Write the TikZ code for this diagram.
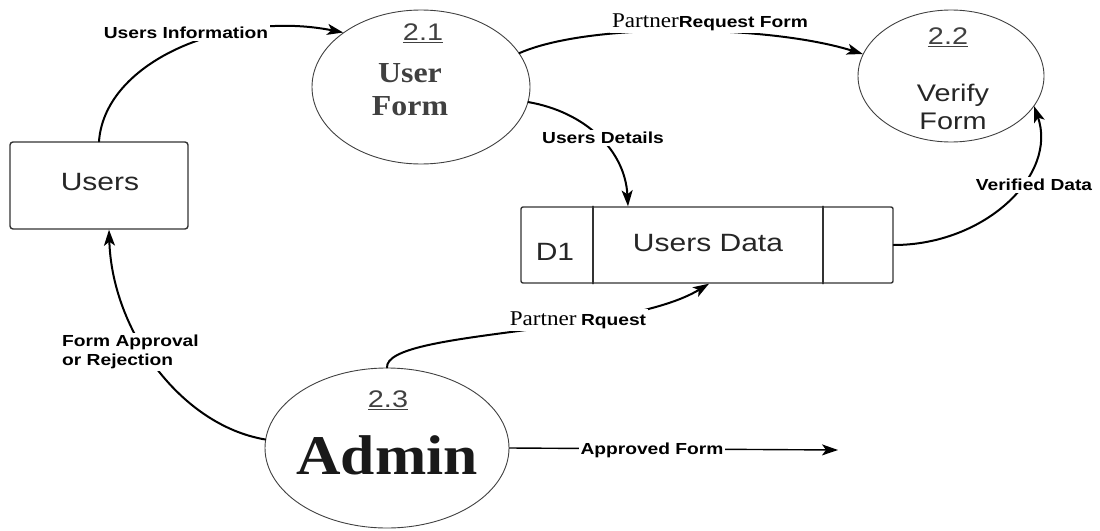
\documentclass[tikz,border=0pt]{standalone}
\usepackage{fontspec}
\usepackage{graphicx}
\setmainfont{Liberation Sans}
\newfontfamily\tnr{Liberation Serif}
\usetikzlibrary{shapes.geometric,arrows.meta}
\newcommand{\sx}[2][1.2]{\scalebox{#1}[1]{#2}}
\begin{document}
\begin{tikzpicture}[x=1pt, y=-1pt, line join=round, line cap=round,
	proc/.style={draw=black!75, line width=0.9pt, ellipse, inner sep=0pt},
	ent/.style={draw=black!80, line width=1.4pt, rounded corners=3pt, inner sep=0pt},
	flow/.style={line width=2pt, -{Stealth[length=16pt,width=11pt,inset=4pt]}},
	lbl/.style={fill=white, inner sep=2pt, font=\fontsize{16}{19}\selectfont\bfseries},
	num/.style={font=\fontsize{24}{26}\selectfont, text=black!75},
	ptxt/.style={font=\tnr\bfseries\fontsize{29}{33}\selectfont, align=center, text=black!75},
	stxt/.style={font=\fontsize{25}{28}\selectfont, align=center, text=black!85}]
	\useasboundingbox (0,0) rectangle (1100,530);
	% processes
	\node[proc, minimum width=218, minimum height=154] (p21) at (421,87) {};
	\node[proc, minimum width=186, minimum height=132] (p22) at (951,76) {};
	\node[proc, minimum width=244, minimum height=160] (p23) at (387,448) {};
	\node[num] at (423,33) {\underline{\sx{2.1}}};
	\node[ptxt] at (410,90) {\sx[1.1]{User}\\\sx[1.1]{Form}};
	\node[num] at (948,37) {\underline{\sx{2.2}}};
	\node[stxt, font=\fontsize{24}{28}\selectfont] at (953,107) {\sx{Verify}\\\sx{Form}};
	\node[num] at (388,400) {\underline{\sx{2.3}}};
	\node[ptxt, font=\tnr\bfseries\fontsize{56}{60}\selectfont, text=black!90] at (387,455) {\sx[1.1]{Admin}};
	% entity and store
	\node[ent, minimum width=178, minimum height=87] (users) at (99,185.5) {};
	\node[stxt] at (100,182) {\sx{Users}};
	\node[ent, rounded corners=2pt, minimum width=372, minimum height=76] (ds) at (707,245) {};
	\draw[black!80, line width=1.4pt] ([xshift=-114pt]ds.north) -- ([xshift=-114pt]ds.south);
	\draw[black!80, line width=1.4pt] ([xshift=116pt]ds.north) -- ([xshift=116pt]ds.south);
	\node[stxt] at (555,252) {\sx{D1}};
	\node[stxt] at (708,243) {\sx{Users Data}};
	\coordinate (outp) at (838,450);
	% flows
	\draw[flow] (users.north) .. controls (105,60) and (230,10) .. (p21.145);
	\draw[flow] (p21.19) .. controls (590,22) and (770,25) .. (p22.166);
	\draw[flow] (p21.-8) .. controls (585,112) and (625,150) .. ([xshift=-79pt]ds.north);
	\draw[flow] (ds.east) .. controls (985,245) and (1058,175) .. (p22.-20);
	\draw[flow] (p23.north) .. controls (385,330) and (625,335) .. ([xshift=2pt]ds.south);
	\draw[flow] (p23.176) .. controls (180,425) and (112,330) .. ([xshift=10pt]users.south);
	\draw[flow, line width=1.4pt] (p23.east) -- (outp);
	% labels
	\node[lbl] (lUI) at (186,33) {\sx{Users Information}};
	\node[lbl] (lPRF) at (710,22) {{\tnr\mdseries\fontsize{21}{23}\selectfont\sx[1.1]{Partner}}\sx{Request Form}};
	\node[lbl] (lUD) at (603,138) {\sx{Users Details}};
	\node[lbl] (lVD) at (1034,185) {\sx{Verified Data}};
	\node[lbl] (lPR) at (578,320) {{\tnr\mdseries\fontsize{21}{23}\selectfont\sx[1.1]{Partner}} \sx{Rquest}};
	\node[lbl, anchor=west, align=left, font=\fontsize{16}{19}\selectfont\bfseries] (lFA) at (60,352) {\sx{Form Approval}\\\sx{or Rejection}};
	\node[lbl] (lAF) at (652,450) {\sx{Approved Form}};
\end{tikzpicture}
\end{document}
